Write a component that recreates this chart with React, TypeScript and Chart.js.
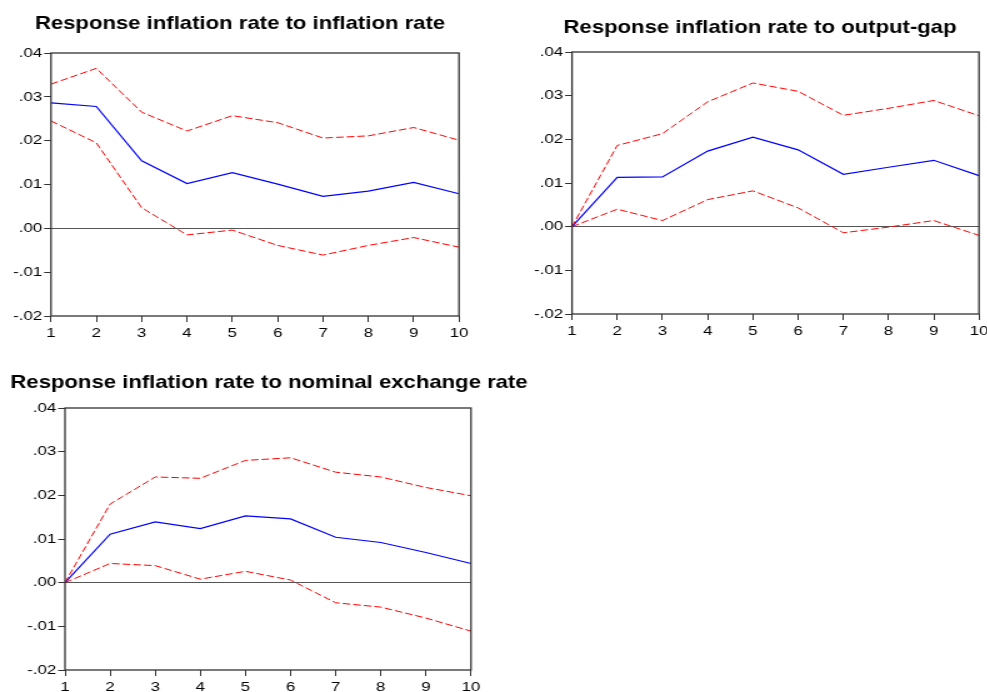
import React, { useEffect, useRef } from "react";
import { Chart, registerables } from "chart.js";

Chart.register(...registerables);

// Forecast horizon (periods after the shock)
const horizons = ["1", "2", "3", "4", "5", "6", "7", "8", "9", "10"];

// Vertical axis ticks
const yTickValues = [-0.02, -0.01, 0.0, 0.01, 0.02, 0.03, 0.04];
const yTickLabels = ["-.02", "-.01", ".00", ".01", ".02", ".03", ".04"];

// Response of inflation rate to an inflation-rate shock
const inflUpper = [0.0329, 0.0365, 0.0265, 0.0222, 0.0257, 0.0241, 0.0206, 0.0211, 0.0230, 0.0201];
const inflMid = [0.0286, 0.0278, 0.0154, 0.0102, 0.0127, 0.0101, 0.0073, 0.0085, 0.0105, 0.0079];
const inflLower = [0.0245, 0.0195, 0.0047, -0.0015, -0.0004, -0.0039, -0.0061, -0.0039, -0.0021, -0.0043];

// Response of inflation rate to an output-gap shock
const gapUpper = [0.0, 0.0186, 0.0213, 0.0286, 0.0329, 0.0310, 0.0255, 0.0271, 0.0289, 0.0254];
const gapMid = [0.0, 0.0113, 0.0114, 0.0173, 0.0205, 0.0176, 0.0120, 0.0136, 0.0152, 0.0117];
const gapLower = [0.0, 0.0040, 0.0014, 0.0062, 0.0082, 0.0043, -0.0014, -0.0001, 0.0014, -0.0020];

// Response of inflation rate to a nominal exchange rate shock
const exchUpper = [0.0, 0.0180, 0.0242, 0.0239, 0.0280, 0.0286, 0.0253, 0.0242, 0.0218, 0.0199];
const exchMid = [0.0, 0.0111, 0.0139, 0.0124, 0.0153, 0.0146, 0.0104, 0.0092, 0.0069, 0.0044];
const exchLower = [0.0, 0.0044, 0.0039, 0.0008, 0.0026, 0.0006, -0.0046, -0.0056, -0.0081, -0.0111];

const FONT = "'Liberation Sans', Arial, Helvetica, sans-serif";

// Graphs are drawn on a narrower bitmap and widened by CSS, giving the
// horizontally stretched look of the exported figure.
const STRETCH = 1.25;

type Panel = {
  title: string;
  upper: number[];
  mid: number[];
  lower: number[];
  left: number; // page px
  top: number; // page px
  width: number; // page px
  height: number; // page px
  plotLeft: number; // page px
  plotRight: number; // page px
  plotTop: number; // px from canvas top
  xAxisHeight: number;
  titleCenter: number; // page px
  titleBaseline: number; // px from canvas top
};

const panels: Panel[] = [
  {
    title: "Response inflation rate to inflation rate",
    upper: inflUpper,
    mid: inflMid,
    lower: inflLower,
    left: 0,
    top: 0,
    width: 480,
    height: 345,
    plotLeft: 51,
    plotRight: 459,
    plotTop: 53,
    xAxisHeight: 29,
    titleCenter: 240,
    titleBaseline: 28.5,
  },
  {
    title: "Response inflation rate to output-gap",
    upper: gapUpper,
    mid: gapMid,
    lower: gapLower,
    left: 520,
    top: 0,
    width: 480,
    height: 345,
    plotLeft: 572,
    plotRight: 979,
    plotTop: 52,
    xAxisHeight: 31,
    titleCenter: 760,
    titleBaseline: 32.7,
  },
  {
    title: "Response inflation rate to nominal exchange rate",
    upper: exchUpper,
    mid: exchMid,
    lower: exchLower,
    left: 0,
    top: 345,
    width: 540,
    height: 347,
    plotLeft: 65,
    plotRight: 471,
    plotTop: 63,
    xAxisHeight: 22,
    titleCenter: 269,
    titleBaseline: 42.5,
  },
];

// Box around the plotting area
const framePlugin = {
  id: "frame",
  afterDatasetsDraw(chart: any) {
    const { ctx, chartArea: a } = chart;
    ctx.save();
    ctx.strokeStyle = "#333333";
    ctx.lineWidth = 1.3;
    ctx.strokeRect(a.left, a.top, a.right - a.left, a.bottom - a.top);
    ctx.restore();
  },
};

// Bold heading above each graph
const headingPlugin = {
  id: "heading",
  afterDraw(chart: any, _args: any, opts: any) {
    const { ctx } = chart;
    ctx.save();
    ctx.fillStyle = "#000000";
    ctx.font = `bold 17.7px ${FONT}`;
    ctx.textAlign = "center";
    ctx.textBaseline = "alphabetic";
    ctx.fillText(opts.text, opts.x, opts.y);
    ctx.restore();
  },
};

function ImpulsePanel({ p }: { p: Panel }) {
  const ref = useRef<HTMLCanvasElement | null>(null);
  const bitmapWidth = Math.round(p.width / STRETCH);
  const sx = p.width / bitmapWidth;

  useEffect(() => {
    if (!ref.current) return;
    const band = (values: number[]) => ({
      data: values,
      borderColor: "#ff0000",
      borderWidth: 1,
      borderDash: [6, 2.5],
      pointRadius: 0,
      tension: 0,
      fill: false,
    });
    const yAxisWidth = (p.plotLeft - p.left) / sx;
    const padRight = (p.left + p.width - p.plotRight) / sx;
    const chart = new Chart(ref.current, {
      type: "line",
      data: {
        labels: horizons,
        datasets: [
          band(p.upper),
          {
            data: p.mid,
            borderColor: "#0000ff",
            borderWidth: 1.2,
            pointRadius: 0,
            tension: 0,
            fill: false,
          },
          band(p.lower),
        ],
      },
      options: {
        responsive: false,
        animation: false,
        layout: { padding: { left: 0, right: padRight, top: p.plotTop, bottom: 0 } },
        plugins: {
          legend: { display: false },
          tooltip: { enabled: false },
          title: { display: false },
          heading: {
            text: p.title,
            x: (p.titleCenter - p.left) / sx,
            y: p.titleBaseline,
          },
        } as any,
        scales: {
          x: {
            type: "category",
            offset: false,
            border: { display: false },
            grid: {
              offset: false,
              drawOnChartArea: false,
              drawTicks: true,
              tickLength: 6,
              tickColor: "#333333",
            },
            ticks: {
              autoSkip: false,
              maxRotation: 0,
              padding: 3,
              color: "#000000",
              font: { family: FONT, size: 13.5 },
            },
            afterFit: (scale: any) => {
              scale.height = p.xAxisHeight;
            },
          },
          y: {
            min: -0.02,
            max: 0.04,
            border: { display: false },
            afterBuildTicks: (scale: any) => {
              scale.ticks = yTickValues.map((v) => ({ value: v }));
            },
            grid: {
              drawOnChartArea: true,
              drawTicks: true,
              tickLength: 5.5,
              tickColor: "#333333",
              lineWidth: 1,
              color: (ctx: any) =>
                ctx.tick && Math.abs(ctx.tick.value) < 1e-9 ? "#555555" : "rgba(0,0,0,0)",
            },
            ticks: {
              padding: 1.5,
              color: "#000000",
              font: { family: FONT, size: 13.5 },
              callback: (_v: any, i: number) => yTickLabels[i],
            },
            afterFit: (scale: any) => {
              scale.width = yAxisWidth;
            },
          },
        },
      },
      plugins: [framePlugin, headingPlugin],
    });
    return () => chart.destroy();
  }, [p, sx]);

  return (
    <canvas
      ref={ref}
      width={bitmapWidth}
      height={p.height}
      style={{
        position: "absolute",
        left: p.left,
        top: p.top,
        width: p.width,
        height: p.height,
      }}
    />
  );
}

export default function App() {
  return (
    <div
      style={{
        position: "absolute",
        left: 0,
        top: 0,
        width: 987,
        height: 692,
        background: "#ffffff",
        overflow: "hidden",
      }}
    >
      {panels.map((p, i) => (
        <ImpulsePanel key={i} p={p} />
      ))}
    </div>
  );
}
